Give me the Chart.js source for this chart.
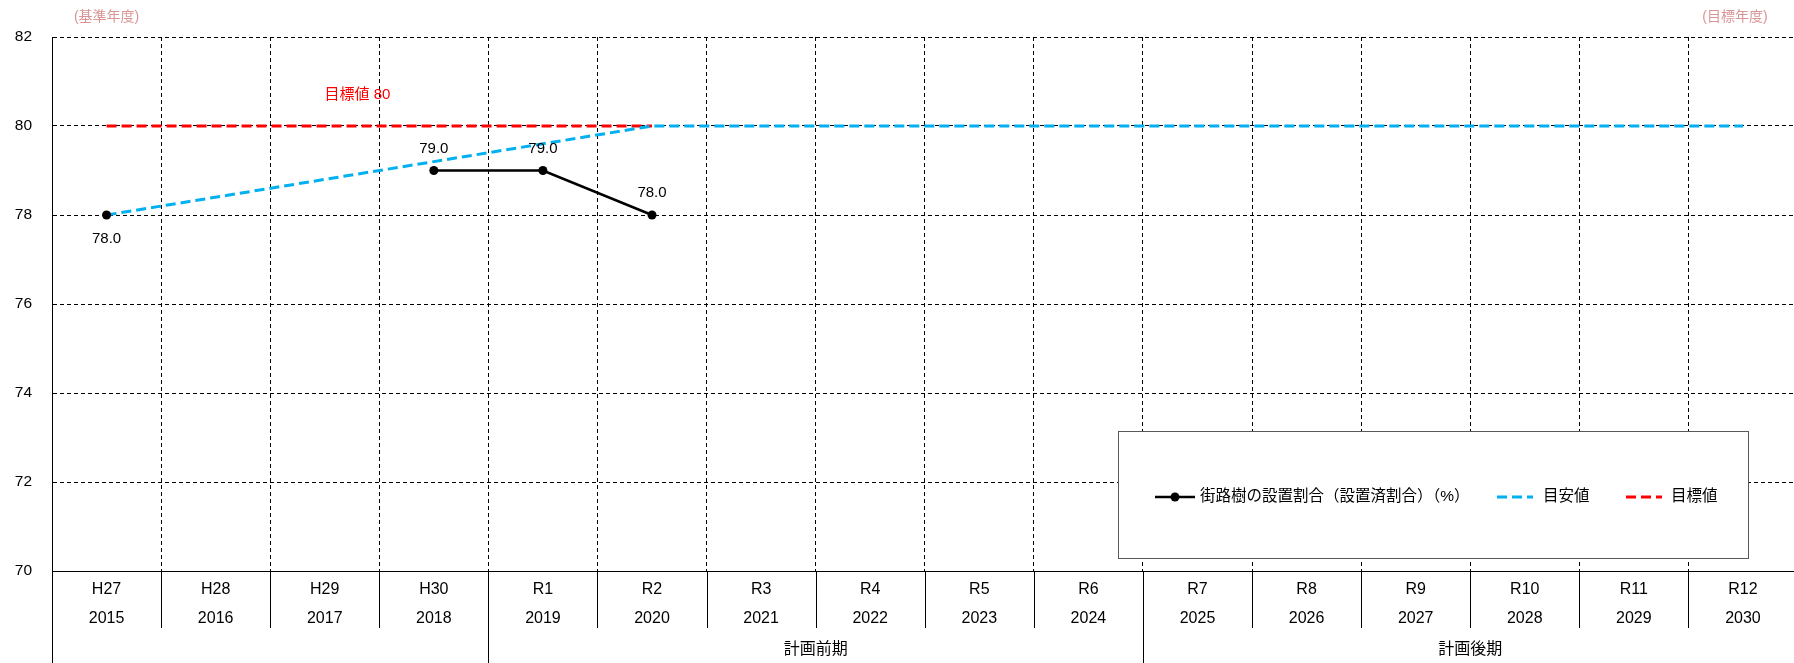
<!DOCTYPE html>
<html lang="ja">
<head>
<meta charset="utf-8">
<title>街路樹の設置割合</title>
<script src="https://cdn.jsdelivr.net/npm/chart.js@4"></script>
<style>
  html, body { margin: 0; padding: 0; background: #fff; overflow: hidden; }
  /* 元図は右端の列が少し切れているので、キャンバスを窓より少し広くする */
  #wrap { width: 1802px; height: 663px; position: relative; }
</style>
</head>
<body>
<div id="wrap"><canvas id="chart"></canvas></div>
<script>
// ---- data ----
const categories = ['H27', 'H28', 'H29', 'H30', 'R1', 'R2', 'R3', 'R4', 'R5', 'R6', 'R7', 'R8', 'R9', 'R10', 'R11', 'R12'];
const years = ['2015', '2016', '2017', '2018', '2019', '2020', '2021', '2022', '2023', '2024', '2025', '2026', '2027', '2028', '2029', '2030'];

// 実績 (街路樹の設置割合)
const actualValues = [78.0, null, null, 79.0, 79.0, 78.0, null, null, null, null, null, null, null, null, null, null];
// 目安値: 基準年度から R2 まで直線、その後は横ばい
const guideValues = [78, null, null, null, null, 80, 80, 80, 80, 80, 80, 80, 80, 80, 80, 80];
// 目標値
const targetValues = [80, 80, 80, 80, 80, 80, null, null, null, null, null, null, null, null, null, null];

const yTickValues = [70, 72, 74, 76, 78, 80, 82];
const seriesNames = ['街路樹の設置割合（設置済割合）（%）', '目安値', '目標値'];
const periodNames = ['', '計画前期', '計画後期'];
const periodStarts = [0, 4, 10];
const targetNote = '目標値 80';
const baseYearNote = '(基準年度)';
const goalYearNote = '(目標年度)';

const FONT = "'Liberation Sans', 'Noto Sans CJK JP', sans-serif";
const GRID_DASH = [4, 3];

// ---- plugins ----
// 実績の数値ラベル
const pointLabels = {
  id: 'pointLabels',
  afterDatasetsDraw(chart) {
    const ctx = chart.ctx;
    const meta = chart.getDatasetMeta(0);
    ctx.save();
    ctx.font = '15px ' + FONT;
    ctx.fillStyle = '#000';
    ctx.textAlign = 'center';
    ctx.textBaseline = 'middle';
    meta.data.forEach((pt, i) => {
      const v = actualValues[i];
      if (v === null) return;
      const dy = i === 0 ? 24 : -22; // 基準年度のラベルだけ下側
      ctx.fillText(v.toFixed(1), pt.x, pt.y + dy);
    });
    ctx.restore();
  }
};

// 枠付き凡例 (グラフ内右下)
const boxLegend = {
  id: 'boxLegend',
  afterDatasetsDraw(chart) {
    const ctx = chart.ctx;
    const box = { x: 1118.5, y: 431.5, w: 630, h: 127 };
    ctx.save();
    ctx.fillStyle = '#fff';
    ctx.fillRect(box.x, box.y, box.w, box.h);
    ctx.strokeStyle = '#595959';
    ctx.lineWidth = 1;
    ctx.strokeRect(box.x, box.y, box.w, box.h);

    const rowY = 497;
    const items = [
      { x1: 1155, x2: 1195, tx: 1200 },
      { x1: 1497, x2: 1533, tx: 1543 },
      { x1: 1626, x2: 1662, tx: 1671 }
    ];
    ctx.font = '15.5px ' + FONT;
    ctx.textBaseline = 'middle';
    ctx.textAlign = 'left';
    chart.data.datasets.forEach((ds, i) => {
      const it = items[i];
      ctx.strokeStyle = ds.borderColor;
      ctx.lineWidth = ds.borderWidth;
      ctx.setLineDash(ds.borderDash || []);
      ctx.beginPath();
      ctx.moveTo(it.x1, rowY);
      ctx.lineTo(it.x2, rowY);
      ctx.stroke();
      ctx.setLineDash([]);
      if (ds.pointRadius > 0) {
        ctx.fillStyle = ds.pointBackgroundColor;
        ctx.beginPath();
        ctx.arc((it.x1 + it.x2) / 2, rowY, ds.pointRadius, 0, Math.PI * 2);
        ctx.fill();
      }
      ctx.fillStyle = '#000';
      ctx.fillText(ds.label, it.tx, rowY);
    });
    ctx.restore();
  }
};

// 軸下の区切り線、計画期間、注記
const axisExtras = {
  id: 'axisExtras',
  afterDraw(chart) {
    const ctx = chart.ctx;
    const x = chart.scales.x;
    const y = chart.scales.y;
    const area = chart.chartArea;
    const half = (x.getPixelForValue(1) - x.getPixelForValue(0)) / 2;
    const edge = i => Math.round(x.getPixelForValue(i) - half) + 0.5;

    ctx.save();
    ctx.strokeStyle = '#000';
    ctx.lineWidth = 1;
    // 年度ラベルの区切り
    for (let i = 1; i < categories.length; i++) {
      ctx.beginPath();
      ctx.moveTo(edge(i), area.bottom);
      ctx.lineTo(edge(i), area.bottom + 57);
      ctx.stroke();
    }
    // 計画期間の区切り
    periodStarts.forEach(s => {
      ctx.beginPath();
      ctx.moveTo(edge(s), area.bottom);
      ctx.lineTo(edge(s), chart.height);
      ctx.stroke();
    });
    // 計画期間の名前
    ctx.font = '16px ' + FONT;
    ctx.fillStyle = '#000';
    ctx.textAlign = 'center';
    ctx.textBaseline = 'middle';
    periodNames.forEach((name, k) => {
      if (!name) return;
      const first = periodStarts[k];
      const last = k + 1 < periodStarts.length ? periodStarts[k + 1] - 1 : categories.length - 1;
      const cx = (x.getPixelForValue(first) + x.getPixelForValue(last)) / 2;
      ctx.fillText(name, cx, area.bottom + 79);
    });

    // 目標値の注記
    ctx.font = '15px ' + FONT;
    ctx.fillStyle = '#ff0000';
    ctx.fillText(targetNote, x.getPixelForValue(2.3), y.getPixelForValue(80.7));

    // 基準年度・目標年度
    ctx.font = '14px ' + FONT;
    ctx.fillStyle = '#d99594';
    ctx.fillText(baseYearNote, x.getPixelForValue(0), area.top - 20);
    ctx.fillText(goalYearNote, x.getPixelForValue(categories.length - 1) - 8, area.top - 20);
    ctx.restore();
  }
};

// ---- chart ----
new Chart(document.getElementById('chart'), {
  type: 'line',
  data: {
    labels: categories.map((c, i) => [c, years[i]]),
    datasets: [
      {
        label: seriesNames[0],
        data: actualValues,
        borderColor: '#000',
        borderWidth: 2.5,
        pointRadius: 4.5,
        pointBackgroundColor: '#000',
        pointBorderWidth: 0,
        spanGaps: false,
        tension: 0
      },
      {
        label: seriesNames[1],
        data: guideValues,
        borderColor: '#00b0f0',
        borderWidth: 3,
        borderDash: [10, 5],
        pointRadius: 0,
        spanGaps: true,
        tension: 0
      },
      {
        label: seriesNames[2],
        data: targetValues,
        borderColor: '#ff0000',
        borderWidth: 3,
        borderDash: [10, 5],
        pointRadius: 0,
        spanGaps: true,
        tension: 0
      }
    ]
  },
  options: {
    responsive: true,
    maintainAspectRatio: false,
    animation: false,
    events: [],
    layout: { padding: { top: 37, left: 0, right: 0, bottom: 0 } },
    plugins: {
      legend: { display: false },
      tooltip: { enabled: false }
    },
    scales: {
      x: {
        offset: true,
        grid: { offset: true, color: '#000', lineWidth: 1, drawTicks: false },
        border: { display: true, color: '#000', width: 1, dash: GRID_DASH },
        ticks: {
          color: '#000',
          padding: 4,
          maxRotation: 0,
          autoSkip: false,
          font: { family: FONT, size: 16, lineHeight: 1.8125 }
        },
        afterFit(scale) { scale.height = 92; }
      },
      y: {
        min: 70,
        max: 82,
        grid: { color: '#000', lineWidth: 1, drawTicks: false },
        border: { display: true, color: '#000', width: 1, dash: GRID_DASH },
        ticks: {
          color: '#000',
          padding: 20,
          font: { family: FONT, size: 15.5 }
        },
        afterBuildTicks(scale) { scale.ticks = yTickValues.map(v => ({ value: v })); },
        afterFit(scale) { scale.width = 52; }
      }
    }
  },
  plugins: [pointLabels, boxLegend, axisExtras]
});
</script>
</body>
</html>
